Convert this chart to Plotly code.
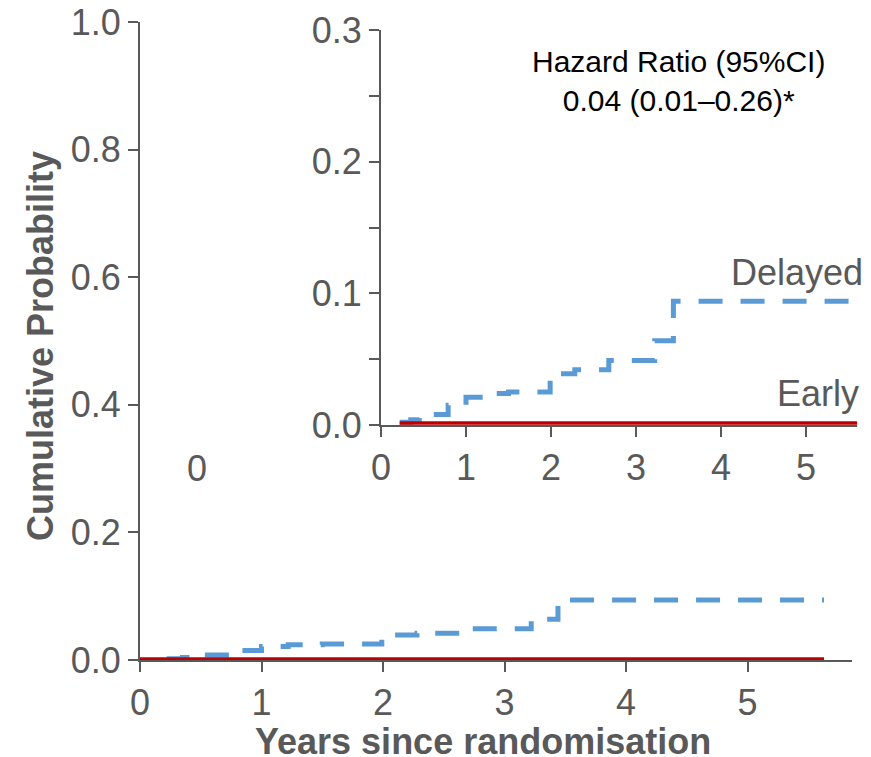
import plotly.graph_objects as go

# ---- data ----
delayed_t = [0.22, 0.35, 0.45, 0.79, 1.00, 1.22, 1.50, 1.99, 2.28, 2.68, 3.22, 3.44, 5.63]
delayed_y = [0.002, 0.004, 0.008, 0.015, 0.021, 0.024, 0.025, 0.039, 0.042, 0.049, 0.064, 0.094, 0.094]
early_t = [0.0, 0.22, 5.63]
early_y = [0.0015, 0.0015, 0.0015]

main_xticks = [0, 1, 2, 3, 4, 5]
main_yticks = [0.0, 0.2, 0.4, 0.6, 0.8, 1.0]
inset_xticks = [0, 1, 2, 3, 4, 5]
inset_yticks = [0.0, 0.05, 0.1, 0.15, 0.2, 0.25, 0.3]
inset_yticktext = ["0.0", "", "0.1", "", "0.2", "", "0.3"]

# ---- layout helpers ----
W, H = 871, 757
L, R, T, B = 140, 10, 22, 97
pw, ph = W - L - R, H - T - B


def fx(px):
    return (px - L) / pw


def fy(py):
    return (H - B - py) / ph


BLUE = "#5b9bd5"
RED = "#c00000"
GREY = "#595959"
FONT = "Liberation Sans, Arial, sans-serif"

fig = go.Figure()

# main panel
fig.add_trace(go.Scatter(x=delayed_t, y=delayed_y, mode="lines", line_shape="hv",
                         line=dict(color=BLUE, width=5, dash="24px,18px"),
                         xaxis="x", yaxis="y", showlegend=False))
fig.add_trace(go.Scatter(x=early_t, y=early_y, mode="lines", line_shape="hv",
                         line=dict(color=RED, width=3.5),
                         xaxis="x", yaxis="y", showlegend=False))
# inset panel
fig.add_trace(go.Scatter(x=delayed_t, y=delayed_y, mode="lines", line_shape="hv",
                         line=dict(color=BLUE, width=5, dash="24px,18px"),
                         xaxis="x2", yaxis="y2", showlegend=False))
fig.add_trace(go.Scatter(x=early_t[1:], y=early_y[1:], mode="lines", line_shape="hv",
                         line=dict(color=RED, width=3.5),
                         xaxis="x2", yaxis="y2", showlegend=False))

axis_style = dict(showline=True, linecolor=GREY, linewidth=2, ticks="outside",
                  ticklen=10, tickwidth=2, tickcolor=GREY, showgrid=False,
                  zeroline=False, tickfont=dict(family=FONT, size=36, color=GREY),
                  layer="below traces", automargin=False)

fig.update_layout(
    width=W, height=H,
    margin=dict(l=L, r=R, t=T, b=B, autoexpand=False),
    paper_bgcolor="white", plot_bgcolor="rgba(0,0,0,0)",
    font=dict(family=FONT, color=GREY),
    xaxis=dict(domain=[0, fx(852)], range=[0, 5.86], tickvals=main_xticks,
               anchor="y", **axis_style),
    yaxis=dict(domain=[0, 1], range=[0, 1], tickvals=main_yticks, tickformat=".1f",
               anchor="x", **axis_style),
    xaxis2=dict(domain=[fx(381), fx(857)], range=[0, 5.6], tickvals=inset_xticks,
                anchor="y2", **axis_style),
    yaxis2=dict(domain=[fy(425), fy(30)], range=[0, 0.3], tickvals=inset_yticks,
                ticktext=inset_yticktext, anchor="x2", **axis_style),
)

annots = [
    dict(text="<b>Cumulative Probability</b>", xref="paper", yref="paper",
         x=fx(40), y=fy(346), xanchor="center", yanchor="middle", textangle=-90,
         showarrow=False, font=dict(family=FONT, size=36, color=GREY)),
    dict(text="<b>Years since randomisation</b>", xref="paper", yref="paper",
         x=fx(483), y=fy(741), xanchor="center", yanchor="middle", showarrow=False,
         font=dict(family=FONT, size=36, color=GREY)),
    dict(text="0", xref="x", yref="y", x=0.47, y=0.30, showarrow=False,
         xanchor="center", yanchor="middle",
         font=dict(family=FONT, size=36, color=GREY)),
    dict(text="Hazard Ratio (95%CI)<br>0.04 (0.01\u20130.26)*", xref="paper", yref="paper",
         x=fx(678), y=fy(81), xanchor="center", yanchor="middle", showarrow=False,
         align="center", font=dict(family=FONT, size=30, color="black")),
    dict(text="Delayed", xref="paper", yref="paper", x=fx(865), y=fy(272),
         xanchor="right", yanchor="middle", showarrow=False,
         font=dict(family=FONT, size=36, color=GREY)),
    dict(text="Early", xref="paper", yref="paper", x=fx(861), y=fy(393),
         xanchor="right", yanchor="middle", showarrow=False,
         font=dict(family=FONT, size=36, color=GREY)),
]
fig.update_layout(annotations=annots)

fig.write_html("out.html")
